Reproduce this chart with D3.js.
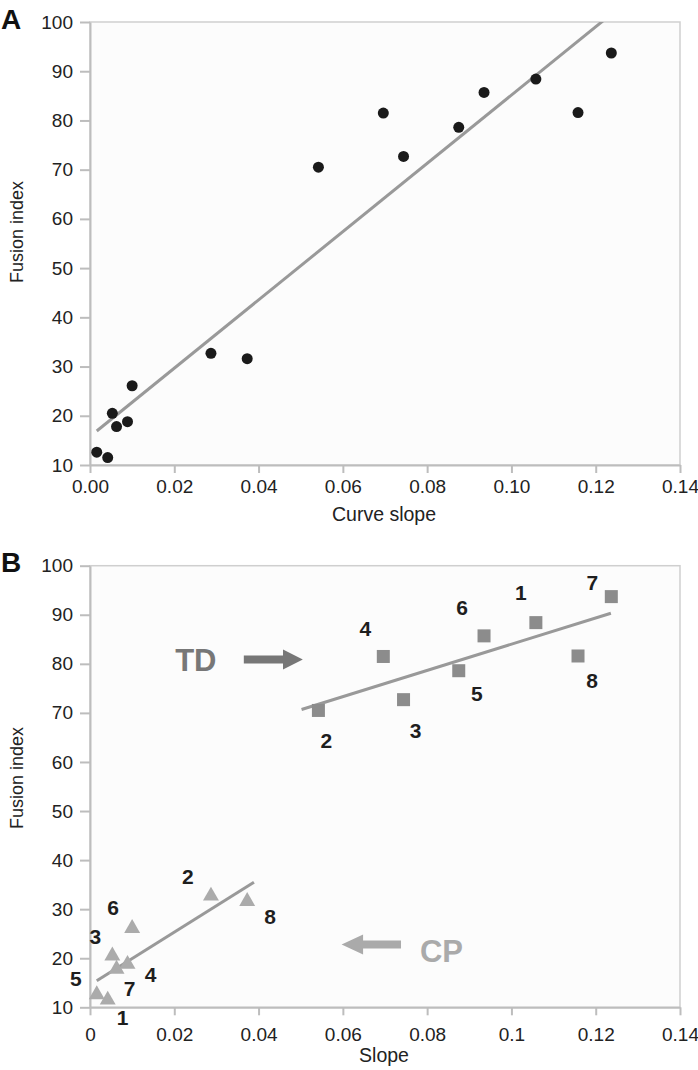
<!DOCTYPE html>
<html>
<head>
<meta charset="utf-8">
<script src="https://cdn.jsdelivr.net/npm/d3@7"></script>
<style>
  html, body { margin: 0; padding: 0; background: #ffffff; }
  svg { display: block; }
  text { font-family: "Liberation Sans", Arial, Helvetica, sans-serif; }
</style>
</head>
<body>
<svg id="chart" width="698" height="1070"></svg>
<script>
// ---------- DATA ----------
// Panel A: all subjects
const slopeA = [0.0016, 0.0042, 0.0053, 0.0063, 0.0089, 0.0100, 0.0287, 0.0373,
                0.0542, 0.0696, 0.0744, 0.0875, 0.0935, 0.1058, 0.1158, 0.1237];
const fusionA = [12.6, 11.5, 20.5, 17.8, 18.8, 26.1, 32.7, 31.6,
                 70.5, 81.5, 72.7, 78.6, 85.7, 88.4, 81.6, 93.7];
const fitA = [[0.0016, 16.9], [0.1237, 101.6]];

// Panel B: TD group
const tdIds = ["1", "2", "3", "4", "5", "6", "7", "8"];
const tdSlope = [0.1058, 0.0542, 0.0744, 0.0696, 0.0875, 0.0935, 0.1237, 0.1158];
const tdFusion = [88.4, 70.5, 72.7, 81.5, 78.6, 85.7, 93.7, 81.6];
const tdFit = [[0.0502, 70.7], [0.1236, 90.3]];

// Panel B: CP group
const cpIds = ["1", "2", "3", "4", "5", "6", "7", "8"];
const cpSlope = [0.0042, 0.0287, 0.0053, 0.0089, 0.0016, 0.0100, 0.0063, 0.0373];
const cpFusion = [11.5, 32.7, 20.5, 18.8, 12.6, 26.1, 17.8, 31.6];
const cpFit = [[0.0016, 15.4], [0.0389, 35.5]];

// Ticks
const yTicks = [10, 20, 30, 40, 50, 60, 70, 80, 90, 100];
const xTicks = [0, 0.02, 0.04, 0.06, 0.08, 0.10, 0.12, 0.14];
const xTickLabelsA = ["0.00", "0.02", "0.04", "0.06", "0.08", "0.10", "0.12", "0.14"];
const xTickLabelsB = ["0", "0.02", "0.04", "0.06", "0.08", "0.1", "0.12", "0.14"];

// ---------- LAYOUT (pixel offsets for point labels) ----------
const tdLabelOffsets = [[-15, -30], [8, 30], [12, 31], [-18, -28], [18, 23], [-22, -28], [-19, -14], [14, 24]];
const cpLabelOffsets = [[15, 17], [-23, -19], [-17, -19], [23, 10], [-21, -16], [-19, -21], [13, 19], [23, 15]];

const svg = d3.select("#chart");
const L = 90, R = 680;
const x = d3.scaleLinear().domain([0, 0.14]).range([L, R]);

function panel(top, bottom, xLabels, xPad, xTitle, xTitleY, yTitleY, letter, letterY, clipId) {
  const y = d3.scaleLinear().domain([10, 100]).range([bottom, top]);
  const g = svg.append("g");
  g.append("rect").attr("x", L).attr("y", top).attr("width", R - L).attr("height", bottom - top)
    .attr("fill", "#fcfcfc").attr("stroke", "#cfcfcf").attr("stroke-width", 1.5);
  svg.append("clipPath").attr("id", clipId).append("rect")
    .attr("x", L).attr("y", top).attr("width", R - L).attr("height", bottom - top);

  const ya = g.append("g").attr("transform", `translate(${L},0)`)
    .call(d3.axisLeft(y).tickValues(yTicks).tickSize(10).tickSizeOuter(0).tickPadding(7));
  const xa = g.append("g").attr("transform", `translate(0,${bottom})`)
    .call(d3.axisBottom(x).tickValues(xTicks).tickSize(8).tickSizeOuter(0).tickPadding(xPad)
      .tickFormat((d, i) => xLabels[i]));
  [ya, xa].forEach(a => {
    a.attr("font-size", null).attr("font-family", null);
    a.select(".domain").attr("stroke", "#bdbdbd").attr("stroke-width", 2);
    a.selectAll(".tick line").attr("stroke", "#bdbdbd").attr("stroke-width", 2);
    a.selectAll(".tick text").attr("fill", "#222").style("font-size", "19px")
      .style("font-family", "'Liberation Sans', Arial, sans-serif");
  });

  g.append("text").attr("x", 384).attr("y", xTitleY).attr("text-anchor", "middle")
    .attr("fill", "#222").style("font-size", "19.5px").text(xTitle);
  g.append("text").attr("transform", `translate(23,${yTitleY}) rotate(-90)`)
    .attr("text-anchor", "middle").attr("fill", "#222").style("font-size", "18px").text("Fusion index");
  g.append("text").attr("x", 1).attr("y", letterY).attr("fill", "#111")
    .style("font-size", "28px").style("font-weight", "bold").text(letter);
  return { g, y };
}

// ---------- Panel A ----------
const A = panel(22, 465, xTickLabelsA, 7, "Curve slope", 521, 232, "A", 29, "clipA");
const lineA = d3.line().x(d => x(d[0])).y(d => A.y(d[1]));
A.g.append("path").datum(fitA).attr("d", lineA).attr("clip-path", "url(#clipA)")
  .attr("stroke", "#999").attr("stroke-width", 3).attr("fill", "none");
A.g.selectAll("circle.pt").data(slopeA.map((s, i) => [s, fusionA[i]])).enter()
  .append("circle").attr("class", "pt")
  .attr("cx", d => x(d[0])).attr("cy", d => A.y(d[1])).attr("r", 5.5).attr("fill", "#1a1a1a");

// ---------- Panel B ----------
const B = panel(565.7, 1007.3, xTickLabelsB, 12, "Slope", 1062, 778, "B", 572, "clipB");
const lineB = d3.line().x(d => x(d[0])).y(d => B.y(d[1]));

B.g.append("path").datum(tdFit).attr("d", lineB)
  .attr("stroke", "#999").attr("stroke-width", 3).attr("fill", "none");
B.g.append("path").datum(cpFit).attr("d", lineB)
  .attr("stroke", "#999").attr("stroke-width", 3).attr("fill", "none");

const tdData = tdSlope.map((s, i) => ({ s, f: tdFusion[i], id: tdIds[i], o: tdLabelOffsets[i] }));
const cpData = cpSlope.map((s, i) => ({ s, f: cpFusion[i], id: cpIds[i], o: cpLabelOffsets[i] }));

B.g.selectAll("rect.td").data(tdData).enter().append("rect").attr("class", "td")
  .attr("x", d => x(d.s) - 6.5).attr("y", d => B.y(d.f) - 6.5).attr("width", 13).attr("height", 13)
  .attr("fill", "#8c8c8c");
B.g.selectAll("path.cp").data(cpData).enter().append("path").attr("class", "cp")
  .attr("d", d3.symbol().type(d3.symbolTriangle).size(110))
  .attr("transform", d => `translate(${x(d.s)},${B.y(d.f)})`)
  .attr("fill", "#ababab");

[tdData, cpData].forEach((arr, k) => {
  B.g.selectAll("text.lab" + k).data(arr).enter().append("text").attr("class", "lab" + k)
    .attr("x", d => x(d.s) + d.o[0]).attr("y", d => B.y(d.f) + d.o[1])
    .attr("dy", "0.36em").attr("text-anchor", "middle")
    .attr("fill", "#1e1e1e").style("font-size", "21px").style("font-weight", "bold").text(d => d.id);
});

// Annotations: TD arrow
const tdY = B.y(80.9);
B.g.append("text").attr("x", x(0.0202)).attr("y", B.y(78.6)).attr("fill", "#777")
  .style("font-size", "31px").style("font-weight", "bold").text("TD");
B.g.append("path").attr("fill", "#777").attr("d", (() => {
  const x0 = x(0.0365), xb = x(0.0458), xt = x(0.0505);
  return `M${x0},${tdY - 4}L${xb},${tdY - 4}L${xb},${tdY - 10}L${xt},${tdY}L${xb},${tdY + 10}L${xb},${tdY + 4}L${x0},${tdY + 4}Z`;
})());

// CP arrow
const cpY = B.y(22.8);
B.g.append("text").attr("x", x(0.0783)).attr("y", B.y(19.3)).attr("fill", "#aaa")
  .style("font-size", "31px").style("font-weight", "bold").text("CP");
B.g.append("path").attr("fill", "#aaa").attr("d", (() => {
  const xt = x(0.0597), xb = x(0.0648), x1 = x(0.0738);
  return `M${xt},${cpY}L${xb},${cpY - 10}L${xb},${cpY - 4}L${x1},${cpY - 4}L${x1},${cpY + 4}L${xb},${cpY + 4}L${xb},${cpY + 10}Z`;
})());
</script>
</body>
</html>
